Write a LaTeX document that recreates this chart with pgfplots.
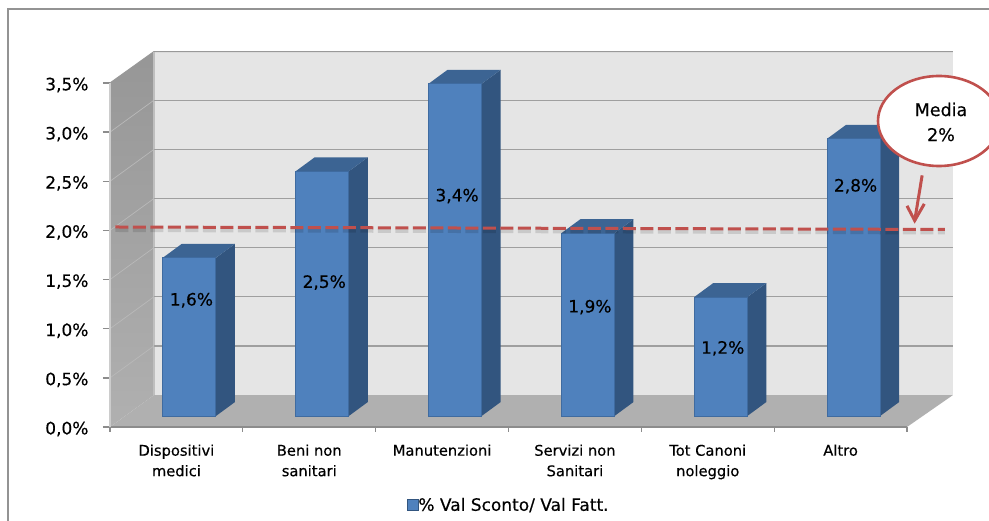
\documentclass[border=0pt]{standalone}
\usepackage{pgfplots}
\usepackage{pgfplotstable}
\usepackage{fontspec}
\usetikzlibrary{shapes.geometric}
\setmainfont{DejaVu Sans}
\newfontfamily\boldish[FakeBold=0.35]{DejaVu Sans}
\pgfplotsset{compat=1.18}
\definecolor{barfront}{HTML}{4F81BD}
\definecolor{barline}{HTML}{3F6BA0}
\definecolor{barside}{HTML}{32557F}
\definecolor{bartop}{HTML}{3C6493}
\definecolor{redline}{HTML}{C0504D}
\pgfplotstableread{
x v lab
0.5 1.61 1.29
1.5 2.49 1.47
2.5 3.38 2.35
3.5 1.86 1.22
4.5 1.21 0.80
5.5 2.82 2.45
}\bars
\begin{document}
\begin{tikzpicture}[x=1pt,y=1pt]
\path[use as bounding box,clip] (0,0) rectangle (989,520);
\fill[white] (0,0) rectangle (989,520);
\draw[color=gray!85,line width=1.6pt] (8,-5) -- (8,511) -- (1000,511);
\begin{axis}[
  at={(110pt,93pt)},anchor=south west,
  scale only axis,width=797pt,height=344pt,
  xmin=0,xmax=6,ymin=0,ymax=3.5,clip=false,
  axis on top,
  axis x line=bottom,axis y line=left,
  x axis line style={-,color=gray!90,line width=2pt},
  y axis line style={-,color=gray!40,line width=1.2pt},
  tick align=outside,
  xtick={0.5,1.5,2.5,3.5,4.5,5.5},
  xticklabels={Dispositivi\\medici,Beni non\\sanitari,Manutenzioni,Servizi non\\Sanitari,Tot Canoni\\noleggio,Altro},
  minor xtick={0,1,2,3,4,5,6},
  x tick style={draw=none},
  minor x tick style={draw=gray!90,line width=1.2pt},
  minor tick length=5pt,
  x tick label style={font=\boldish\fontsize{14.7}{20.5}\selectfont,align=center,yshift=-7pt},
  ytick={0,0.5,1,1.5,2,2.5,3,3.5},
  y tick style={draw=gray!90,line width=1.4pt},
  major tick length=7pt,
  y tick label style={font=\boldish\fontsize{17}{20}\selectfont,xshift=-11pt,yshift=-2pt,
    /pgf/number format/.cd,fixed,fixed zerofill,precision=1,use comma,assume math mode=true},
  yticklabel={\pgfmathprintnumber{\tick}\%},
  legend style={draw=none,fill=none,at={(0.5006,-0.2270)},anchor=center,
    font=\boldish\fontsize{17}{18}\selectfont,inner sep=0pt,legend cell align=left,
    /tikz/every odd column/.append style={column sep=-3pt}},
  legend image code/.code={\draw[fill=barfront,draw=barside,line width=1pt] (-6pt,-16pt) rectangle (5pt,-5pt);},
]
% walls and floor
\addplot[forget plot,draw=none,top color=black!41,bottom color=black!31] coordinates {(0,0)(0,3.5)(0.331,3.82)(0.331,0.325)} --cycle;
\addplot[forget plot,draw=none,fill=black!31] coordinates {(0,0)(0.331,0.325)(6.346,0.325)(6,0)} --cycle;
\addplot[forget plot,draw=none,fill=black!10] coordinates {(0.331,0.325)(0.331,3.82)(6.346,3.82)(6.346,0.325)} --cycle;
\addplot[forget plot,draw=gray!80,line width=1pt] coordinates {(0,3.5)(0.331,3.82)(6.346,3.82)};
\addplot[forget plot,draw=gray!50,line width=1.4pt] coordinates {(0.331,0.325)(0.331,3.82)};
% grid
\addplot[forget plot,draw=gray!75,line width=1.4pt] coordinates {(0.331,3.325)(6.346,3.325)};
\addplot[forget plot,draw=gray!75,line width=1.4pt] coordinates {(0.331,2.825)(6.346,2.825)};
\addplot[forget plot,draw=gray!75,line width=1.4pt] coordinates {(0.331,2.325)(6.346,2.325)};
\addplot[forget plot,draw=gray!75,line width=1.4pt] coordinates {(0.331,1.825)(6.346,1.825)};
\addplot[forget plot,draw=gray!75,line width=1.4pt] coordinates {(0.331,1.325)(6.346,1.325)};
\addplot[forget plot,draw=gray!75,line width=1.4pt] coordinates {(0.331,0.825)(6.346,0.825)};
\addplot[forget plot,draw=gray!55,line width=0.7pt] coordinates {(0,3)(0.331,3.325)};
\addplot[forget plot,draw=gray!55,line width=0.7pt] coordinates {(0,2.5)(0.331,2.825)};
\addplot[forget plot,draw=gray!55,line width=0.7pt] coordinates {(0,2)(0.331,2.325)};
\addplot[forget plot,draw=gray!55,line width=0.7pt] coordinates {(0,1.5)(0.331,1.825)};
\addplot[forget plot,draw=gray!55,line width=0.7pt] coordinates {(0,1)(0.331,1.325)};
\addplot[forget plot,draw=gray!55,line width=0.7pt] coordinates {(0,0.5)(0.331,0.825)};
% side faces
\addplot[forget plot,fill=barside,draw=none,xshift=13pt,yshift=11pt] coordinates {(0.7,0)(0.7,1.61)(0.843,1.752)(0.843,0.142)} --cycle;
\addplot[forget plot,fill=barside,draw=none,xshift=13pt,yshift=11pt] coordinates {(1.7,0)(1.7,2.49)(1.843,2.632)(1.843,0.142)} --cycle;
\addplot[forget plot,fill=barside,draw=none,xshift=13pt,yshift=11pt] coordinates {(2.7,0)(2.7,3.38)(2.843,3.522)(2.843,0.142)} --cycle;
\addplot[forget plot,fill=barside,draw=none,xshift=13pt,yshift=11pt] coordinates {(3.7,0)(3.7,1.86)(3.843,2.002)(3.843,0.142)} --cycle;
\addplot[forget plot,fill=barside,draw=none,xshift=13pt,yshift=11pt] coordinates {(4.7,0)(4.7,1.21)(4.843,1.352)(4.843,0.142)} --cycle;
\addplot[forget plot,fill=barside,draw=none,xshift=13pt,yshift=11pt] coordinates {(5.7,0)(5.7,2.82)(5.843,2.962)(5.843,0.142)} --cycle;
% top faces
\addplot[forget plot,fill=bartop,draw=none,xshift=13pt,yshift=11pt] coordinates {(0.3,1.61)(0.7,1.61)(0.843,1.752)(0.443,1.752)} --cycle;
\addplot[forget plot,fill=bartop,draw=none,xshift=13pt,yshift=11pt] coordinates {(1.3,2.49)(1.7,2.49)(1.843,2.632)(1.443,2.632)} --cycle;
\addplot[forget plot,fill=bartop,draw=none,xshift=13pt,yshift=11pt] coordinates {(2.3,3.38)(2.7,3.38)(2.843,3.522)(2.443,3.522)} --cycle;
\addplot[forget plot,fill=bartop,draw=none,xshift=13pt,yshift=11pt] coordinates {(3.3,1.86)(3.7,1.86)(3.843,2.002)(3.443,2.002)} --cycle;
\addplot[forget plot,fill=bartop,draw=none,xshift=13pt,yshift=11pt] coordinates {(4.3,1.21)(4.7,1.21)(4.843,1.352)(4.443,1.352)} --cycle;
\addplot[forget plot,fill=bartop,draw=none,xshift=13pt,yshift=11pt] coordinates {(5.3,2.82)(5.7,2.82)(5.843,2.962)(5.443,2.962)} --cycle;
% front faces
\addplot[ybar,bar width=53pt,fill=barfront,draw=barline,line width=1pt,xshift=13pt,yshift=11pt] table[x=x,y=v] {\bars};
\addlegendentry{\% Val Sconto/ Val Fatt.}
% mean line
\addplot[forget plot,draw=black,opacity=0.12,line width=4pt,dash pattern=on 13pt off 4.5pt,yshift=-3pt] coordinates {(0.04,2.035)(6.286,2.01)};
\addplot[forget plot,draw=redline,line width=3pt,dash pattern=on 13pt off 4.5pt] coordinates {(0.04,2.035)(6.286,2.01)};
\addplot[forget plot,draw=redline,line width=3pt] coordinates {(6.114,2.56)(6.058,2.10)};
\addplot[forget plot,draw=redline,line width=3pt] coordinates {(6.00,2.25)(6.058,2.10)(6.13,2.27)};
% labels
\addplot[forget plot,draw=none,xshift=15pt,point meta=explicit,
  nodes near coords={\pgfmathprintnumber[fixed,fixed zerofill,precision=1,use comma,assume math mode=true]{\pgfplotspointmeta}\%},
  nodes near coords style={anchor=center,font=\boldish\fontsize{17}{20}\selectfont,text=black,inner sep=0pt}]
  table[x=x,y=lab,meta=v] {\bars};
\end{axis}
\node[ellipse,draw=redline,line width=2.6pt,fill=white,minimum width=122pt,minimum height=90pt,align=center,
  inner sep=0pt] at (939,399) {};
\node[align=center,font=\boldish\fontsize{17.5}{25}\selectfont] at (941,398) {Media\\2\%};
\end{tikzpicture}
\end{document}
